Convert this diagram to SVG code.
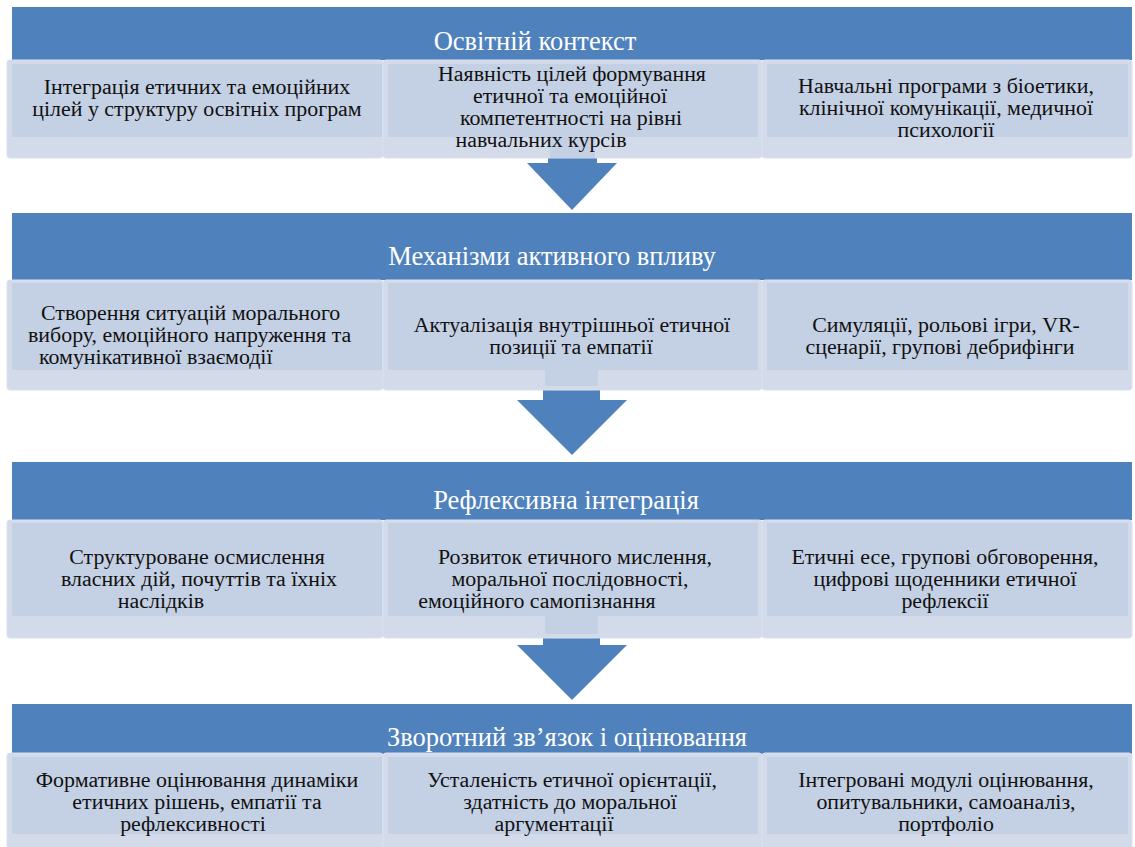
<svg xmlns="http://www.w3.org/2000/svg" width="1135" height="847" viewBox="0 0 1135 847">
<style>
.bar{fill:#4f81bd}
.outer{fill:#d3dbea;stroke:#d9e0ee;stroke-width:1}
.inner{fill:#c4d0e4}
.arrow{fill:#4f81bd}
.title{font-size:26.5px;fill:#ffffff;text-anchor:middle}
.t{font-size:21.9px;fill:#111111;text-anchor:middle}
.ts{font-size:21.9px;fill:#111111;text-anchor:start}
</style>
<rect width="1135" height="847" fill="#ffffff"/>
<g id="connectors">
<polygon class="arrow" points="548,150 597,150 597,163 617,163 572,210 527,163 548,163"/>
<polygon class="arrow" points="543,380 600,380 600,400 627,400 572,455 517,400 543,400"/>
<polygon class="arrow" points="543,628 600,628 600,645 627,645 572,700 517,645 543,645"/>
</g>
<g font-family="Liberation Serif, Times New Roman, DejaVu Serif, serif">
<g id="block1">
<rect class="bar" x="12" y="7" width="1120" height="53"/>
<text class="title" x="535" y="50">Освітній контекст</text>
<g id="b1n1"><rect class="outer" x="7" y="60" width="376" height="98" rx="3"/><rect class="inner" x="12" y="64" width="370" height="73"/>
<text class="t" x="197" y="94">Інтеграція етичних та емоційних</text><text class="t" x="197" y="116">цілей у структуру освітніх програм</text></g>
<g id="b1n2"><rect class="outer" x="383" y="60" width="379" height="98" rx="3"/><rect class="inner" x="388" y="64" width="370" height="73"/><rect class="inner" x="550" y="137" width="45" height="21"/>
<text class="t" x="572" y="81">Наявність цілей формування</text><text class="t" x="570" y="103">етичної та емоційної</text><text class="t" x="571" y="125">компетентності на рівні</text><text class="t" x="541" y="147">навчальних курсів</text></g>
<g id="b1n3"><rect class="outer" x="762" y="60" width="370" height="98" rx="3"/><rect class="inner" x="767" y="64" width="361" height="73"/>
<text class="t" x="946" y="93">Навчальні програми з біоетики,</text><text class="t" x="946" y="115">клінічної комунікації, медичної</text><text class="t" x="946" y="137">психології</text></g>
</g>
<g id="block2">
<rect class="bar" x="12" y="213" width="1120" height="67"/>
<text class="title" x="552" y="265">Механізми активного впливу</text>
<g id="b2n1"><rect class="outer" x="7" y="280" width="376" height="110" rx="3"/><rect class="inner" x="12" y="283" width="370" height="87"/>
<text class="ts" x="41" y="320">Створення ситуацій морального</text><text class="ts" x="28" y="342">вибору, емоційного напруження та</text><text class="ts" x="39" y="364">комунікативної взаємодії</text></g>
<g id="b2n2"><rect class="outer" x="383" y="280" width="379" height="110" rx="3"/><rect class="inner" x="388" y="283" width="370" height="87"/><rect class="inner" x="545" y="370" width="53" height="16"/>
<text class="t" x="572" y="332">Актуалізація внутрішньої етичної</text><text class="t" x="571" y="354">позиції та емпатії</text></g>
<g id="b2n3"><rect class="outer" x="762" y="280" width="370" height="110" rx="3"/><rect class="inner" x="767" y="283" width="361" height="87"/>
<text class="t" x="946" y="332">Симуляції, рольові ігри, VR-</text><text class="t" x="940" y="354">сценарії, групові дебрифінги</text></g>
</g>
<g id="block3">
<rect class="bar" x="12" y="462" width="1120" height="58"/>
<text class="title" x="566" y="509">Рефлексивна інтеграція</text>
<g id="b3n1"><rect class="outer" x="7" y="520" width="376" height="118" rx="3"/><rect class="inner" x="12" y="523" width="370" height="93"/>
<text class="t" x="197" y="564">Структуроване осмислення</text><text class="t" x="199" y="586">власних дій, почуттів та їхніх</text><text class="t" x="161" y="608">наслідків</text></g>
<g id="b3n2"><rect class="outer" x="383" y="520" width="379" height="118" rx="3"/><rect class="inner" x="388" y="523" width="370" height="93"/><rect class="inner" x="545" y="616" width="53" height="18"/>
<text class="t" x="575" y="564">Розвиток етичного мислення,</text><text class="t" x="570" y="586">моральної послідовності,</text><text class="t" x="537" y="608">емоційного самопізнання</text></g>
<g id="b3n3"><rect class="outer" x="762" y="520" width="370" height="118" rx="3"/><rect class="inner" x="767" y="523" width="361" height="93"/>
<text class="t" x="945" y="564">Етичні есе, групові обговорення,</text><text class="t" x="945" y="586">цифрові щоденники етичної</text><text class="t" x="945" y="608">рефлексії</text></g>
</g>
<g id="block4">
<rect class="bar" x="12" y="704" width="1120" height="50"/>
<text class="title" x="567" y="746">Зворотний зв’язок і оцінювання</text>
<g id="b4n1"><rect class="outer" x="7" y="753" width="376" height="100" rx="3"/><rect class="inner" x="12" y="757" width="370" height="77"/>
<text class="t" x="197" y="787">Формативне оцінювання динаміки</text><text class="t" x="197" y="809">етичних рішень, емпатії та</text><text class="t" x="193" y="831">рефлексивності</text></g>
<g id="b4n2"><rect class="outer" x="383" y="753" width="379" height="100" rx="3"/><rect class="inner" x="388" y="757" width="370" height="77"/>
<text class="t" x="572" y="787">Усталеність етичної орієнтації,</text><text class="t" x="570" y="809">здатність до моральної</text><text class="t" x="554" y="831">аргументації</text></g>
<g id="b4n3"><rect class="outer" x="762" y="753" width="370" height="100" rx="3"/><rect class="inner" x="767" y="757" width="361" height="77"/>
<text class="t" x="946" y="787">Інтегровані модулі оцінювання,</text><text class="t" x="946" y="809">опитувальники, самоаналіз,</text><text class="t" x="946" y="831">портфоліо</text></g>
</g>
</g>
</svg>
